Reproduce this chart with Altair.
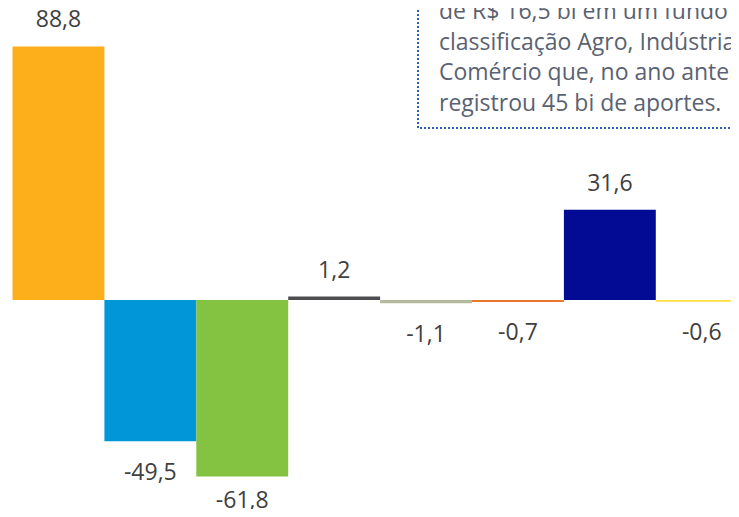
import altair as alt
import pandas as pd

# Data
categorias = ["Renda Fixa", "Ações", "Multimercados", "Cambial", "Previdência", "ETF", "FIDC", "Off-shore"]
valores = [88.8, -49.5, -61.8, 1.2, -1.1, -0.7, 31.6, -0.6]
cores = ["#FCAF1B", "#0096D7", "#83C341", "#4D4D4F", "#B6BA9D", "#E8792B", "#030B95", "#FDDD3F"]
nota = [
    "de R$ 16,5 bi em um fundo da",
    "classificação Agro, Indústria e",
    "Comércio que, no ano anterior,",
    "registrou 45 bi de aportes.",
]

df = pd.DataFrame({"categoria": categorias, "valor": valores, "cor": cores})

FONT = "Open Sans"
W, H = 723, 501
K = 2.855          # pixels per unit
ZERO = 292         # pixel row of zero inside the plot
BW = 91.9          # pixels per bar
X0 = 4.5           # pixel column of first bar inside the plot

x_scale = alt.Scale(domain=[-X0 / BW, (W - X0) / BW], nice=False, zero=False)
y_scale = alt.Scale(domain=[-(H - ZERO) / K, ZERO / K], nice=False, zero=False)
y_min_label = -(H - 1 - ZERO) / K

base = alt.Chart(df).transform_window(
    idx="row_number()"
).transform_calculate(
    x0="datum.idx - 1",
    x1="datum.idx",
    xm="datum.idx - 0.5",
    rotulo="(datum.valor < 0 ? '-' : '') + replace(format(abs(datum.valor), '.1f'), '.', ',')",
    ly=f"datum.valor >= 0 ? datum.valor + 19 / {K} : max(datum.valor - 38.5 / {K}, {y_min_label})",
)

bars = base.mark_bar(clip=True, cornerRadius=0).encode(
    x=alt.X("x0:Q", scale=x_scale, axis=None),
    x2="x1:Q",
    y=alt.Y("valor:Q", scale=y_scale, axis=None),
    y2=alt.datum(0),
    color=alt.Color("cor:N", scale=None, legend=None),
)

labels = base.mark_text(
    font=FONT, fontSize=23, color="#404040", baseline="alphabetic"
).encode(
    x=alt.X("xm:Q", scale=x_scale, axis=None),
    y=alt.Y("ly:Q", scale=y_scale, axis=None),
    text="rotulo:N",
)

anno_data = alt.Data(values=[{"a": 1}])
box = alt.Chart(anno_data).mark_rect(
    fill="white", stroke="#2F5EB5", strokeWidth=2, strokeDash=[2, 2]
).encode(
    x=alt.value(410), x2=alt.value(760), y=alt.value(-20), y2=alt.value(120)
)
txt = alt.Chart(anno_data).mark_text(
    font=FONT, fontSize=23, color="#5A6272", align="left", baseline="alphabetic",
    lineHeight=30.5,
).encode(
    x=alt.value(431), y=alt.value(11), text=alt.value(nota)
)

chart = alt.layer(bars, labels, box, txt).properties(
    width=W, height=H, padding=0, autosize="none"
).configure_view(stroke=None)

chart.save("out.html", embed_options={"renderer": "svg", "actions": False})
